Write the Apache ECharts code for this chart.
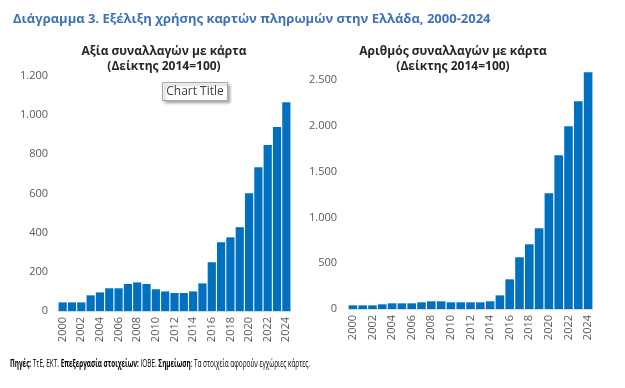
<!DOCTYPE html>
<html><head><meta charset="utf-8">
<script src="https://cdn.jsdelivr.net/npm/echarts@6/dist/echarts.min.js"></script>
<style>html,body{margin:0;padding:0;background:#fff}#c{width:625px;height:388px}</style>
</head><body><div id="c"></div>
<script>
const years = ['2000','2001','2002','2003','2004','2005','2006','2007','2008','2009','2010','2011','2012','2013','2014','2015','2016','2017','2018','2019','2020','2021','2022','2023','2024'];
const valueIndex = [44,44,44,80,95,116,116,138,146,138,111,100,92,92,100,141,249,351,376,428,601,734,848,939,1066];
const countIndex = [40,40,40,51,62,62,62,73,84,84,73,73,73,73,84,149,324,565,707,882,1265,1680,1997,2270,2587];
const leftTitle = 'Αξία συναλλαγών με κάρτα\n(Δείκτης 2014=100)';
const rightTitle = 'Αριθμός συναλλαγών με κάρτα\n(Δείκτης 2014=100)';
const mainTitle = 'Διάγραμμα 3. Εξέλιξη χρήσης καρτών πληρωμών στην Ελλάδα, 2000-2024';
const footerParts = [['Πηγές:', true], [' ΤτΕ, ΕΚΤ. ', false], ['Επεξεργασία στοιχείων:', true], [' ΙΟΒΕ. ', false], ['Σημείωση', true], [': Τα στοιχεία αφορούν εγχώριες κάρτες.', false]];

function fmt(v){ return String(v).replace(/\B(?=(\d{3})+(?!\d))/g,'.'); }
const FONT = 'Open Sans, Noto Sans, sans-serif';
const FOOT_FONT = 'Open Sans';
const FOOT_SIZE = 10.5;

// measure footer width to condense it like the reference
const cv = document.createElement('canvas').getContext('2d');
let footW = 0;
footerParts.forEach(([t,b]) => { cv.font = (b ? 'bold ' : '') + FOOT_SIZE + 'px ' + FOOT_FONT; footW += cv.measureText(t).width; });
const footScale = 300 / footW;
const footerText = footerParts.map(([t,b]) => b ? '{b|' + t + '}' : '{n|' + t + '}').join('');

const chart = echarts.init(document.getElementById('c'));
const xAxisCommon = {
  type:'category', data: years,
  axisLine:{lineStyle:{color:'#d9d9d9'}}, axisTick:{show:false},
  axisLabel:{rotate:90, interval:1, color:'#595959', fontSize:11, margin:6, fontFamily:FONT}
};
const yAxisCommon = {
  type:'value', splitLine:{show:false}, axisLine:{show:false}, axisTick:{show:false},
  axisLabel:{color:'#595959', fontSize:11, fontFamily:FONT}
};
chart.setOption({
  animation:false,
  title:[
    {text:mainTitle, left:8, top:8, textStyle:{color:'#3f72b5', fontSize:13, fontWeight:'bold', fontFamily:FONT}},
    {text:leftTitle, left:159, top:39, textAlign:'center', textStyle:{color:'#262626', fontSize:12, fontWeight:'bold', lineHeight:15, fontFamily:FONT}},
    {text:rightTitle, left:448, top:39, textAlign:'center', textStyle:{color:'#262626', fontSize:12, fontWeight:'bold', lineHeight:15, fontFamily:FONT}}
  ],
  graphic:[
    {type:'group', left:162, top:82, children:[
      {type:'rect', shape:{x:0,y:0,width:65,height:18}, style:{fill:'#fff', stroke:'#a6a6a6', lineWidth:1, shadowBlur:3, shadowOffsetX:2, shadowOffsetY:2, shadowColor:'rgba(0,0,0,0.35)'}},
      {type:'text', x:32.5, y:9, style:{text:'Chart Title', fill:'#404040', fontSize:12, fontFamily:FONT, align:'center', verticalAlign:'middle'}}
    ]},
    {type:'text', x:10, y:364, scaleX:footScale, originX:0,
     style:{text:footerText, verticalAlign:'middle', align:'left',
       rich:{b:{fontWeight:'bold', fontSize:FOOT_SIZE, fontFamily:FOOT_FONT, fill:'#000'},
             n:{fontWeight:'normal', fontSize:FOOT_SIZE, fontFamily:FOOT_FONT, fill:'#000'}}}}
  ],
  grid:[
    {left:58, right:334, top:76, bottom:77},
    {left:348, right:32, top:71, bottom:79}
  ],
  xAxis:[
    Object.assign({gridIndex:0}, xAxisCommon),
    Object.assign({gridIndex:1}, xAxisCommon)
  ],
  yAxis:[
    Object.assign({}, yAxisCommon, {gridIndex:0, min:0, max:1200, interval:200, axisLabel:Object.assign({}, yAxisCommon.axisLabel, {margin:10, formatter:fmt})}),
    Object.assign({}, yAxisCommon, {gridIndex:1, min:0, max:2600, interval:500, axisLabel:Object.assign({}, yAxisCommon.axisLabel, {margin:11, formatter:v => v % 500 === 0 ? fmt(v) : ''})})
  ],
  series:[
    {type:'bar', xAxisIndex:0, yAxisIndex:0, data:valueIndex, itemStyle:{color:'#0070c0'}, barCategoryGap:'12%'},
    {type:'bar', xAxisIndex:1, yAxisIndex:1, data:countIndex, itemStyle:{color:'#0070c0'}, barCategoryGap:'12%'}
  ]
});
</script></body></html>
